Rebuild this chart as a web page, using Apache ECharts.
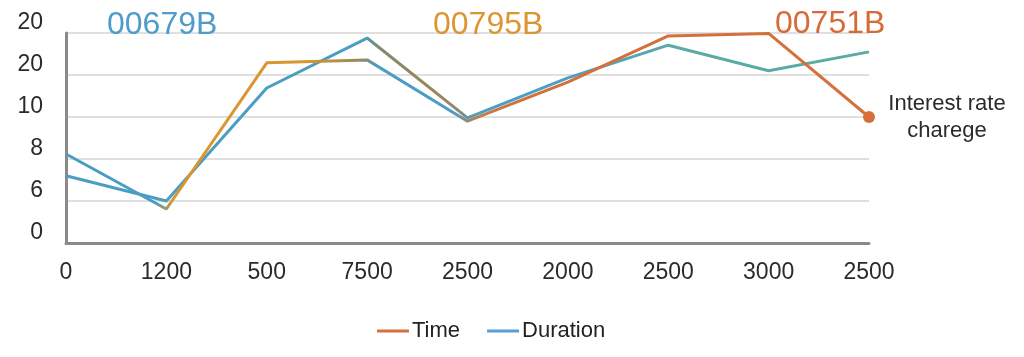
<!DOCTYPE html>
<html>
<head>
<meta charset="utf-8">
<script src="https://cdn.jsdelivr.net/npm/echarts@6/dist/echarts.min.js"></script>
<style>
html,body{margin:0;padding:0;background:#fff;}
#chart{width:1024px;height:357px;}
</style>
</head>
<body>
<div id="chart"></div>
<script>
// ---- data ----
const categories = ['0', '1200', '500', '7500', '2500', '2000', '2500', '3000', '2500'];
const yTickLabels = ['0', '6', '8', '10', '20', '20'];
const timeValues = [21.2, 8.1, 42.9, 43.6, 29.0, 38.3, 49.3, 49.9, 30.0];
const durationValues = [16.0, 10.0, 36.9, 48.8, 29.8, 39.3, 47.1, 41.0, 45.5];
const seriesNames = ['Time', 'Duration'];
const titleTexts = ['00679B', '00795B', '00751B'];
const endNote = ['Interest rate', 'charege'];

const chart = echarts.init(document.getElementById('chart'));
const FONT = '"Liberation Sans", Arial, Helvetica, sans-serif';

const timeGrad = new echarts.graphic.LinearGradient(0, 0, 1, 0, [
  {offset: 0, color: '#4a9dc3'},
  {offset: 0.115, color: '#4a9dc3'},
  {offset: 0.135, color: '#d9962f'},
  {offset: 0.30, color: '#d9962f'},
  {offset: 0.37, color: '#8f8c62'},
  {offset: 0.39, color: '#4a9dc3'},
  {offset: 0.48, color: '#4a9dc3'},
  {offset: 0.52, color: '#c87a45'},
  {offset: 0.57, color: '#d4703c'},
  {offset: 1, color: '#d4703c'}
]);
const durGrad = new echarts.graphic.LinearGradient(0, 0, 1, 0, [
  {offset: 0, color: '#4a9dc3'},
  {offset: 0.372, color: '#4a9dc3'},
  {offset: 0.39, color: '#7e8c6c'},
  {offset: 0.47, color: '#a0835a'},
  {offset: 0.52, color: '#4aa0c4'},
  {offset: 0.6, color: '#4aa0c4'},
  {offset: 0.76, color: '#5aaaa6'},
  {offset: 1, color: '#5aaaa6'}
]);

const option = {
  backgroundColor: '#ffffff',
  textStyle: {fontFamily: FONT},
  animation: false,
  grid: {left: 66, right: 155, top: 33, bottom: 114, containLabel: false},
  xAxis: {
    type: 'category',
    data: categories,
    boundaryGap: false,
    axisLine: {lineStyle: {color: '#8a8a8a', width: 3}},
    axisTick: {show: false},
    axisLabel: {color: '#2a2a2a', fontSize: 23, margin: 18, fontFamily: FONT},
    splitLine: {show: false}
  },
  yAxis: {
    type: 'value',
    min: 0, max: 50, interval: 10,
    axisLine: {show: true, lineStyle: {color: '#8a8a8a', width: 3}},
    axisTick: {show: false},
    axisLabel: {
      color: '#2a2a2a', fontSize: 23, margin: 23, fontFamily: FONT,
      verticalAlign: 'bottom', padding: [0, 0, -1, 0],
      formatter: v => yTickLabels[Math.round(v / 10)]
    },
    splitLine: {lineStyle: {color: '#d6d6d6', width: 1.5}}
  },
  legend: {
    bottom: 10,
    left: 372,
    itemGap: 27,
    itemWidth: 32,
    itemHeight: 3,
    textStyle: {color: '#222', fontSize: 22, fontFamily: FONT, padding: [0, 0, 0, -2]},
    data: [
      {name: seriesNames[0], icon: 'rect', itemStyle: {color: '#d4703c'}},
      {name: seriesNames[1], icon: 'rect', itemStyle: {color: '#5b9fd0'}}
    ]
  },
  graphic: [
    {type: 'text', z: 100, left: 107, top: 9, style: {text: titleTexts[0], fill: '#4f9bc9', font: '32px ' + FONT}},
    {type: 'text', z: 100, left: 433, top: 9, style: {text: titleTexts[1], fill: '#dc9530', font: '32px ' + FONT}},
    {type: 'text', z: 100, left: 775, top: 8, style: {text: titleTexts[2], fill: '#d66a38', font: '32px ' + FONT}}
  ],
  series: [
    {
      name: seriesNames[1],
      type: 'line',
      data: durationValues,
      symbol: 'none',
      color: '#5b9fd0',
      lineStyle: {width: 3, color: durGrad},
      z: 2
    },
    {
      name: seriesNames[0],
      type: 'line',
      data: timeValues.map((v, i) => i === timeValues.length - 1 ? {
        value: v,
        symbol: 'circle',
        symbolSize: 12,
        itemStyle: {color: '#d4703c'},
        label: {
          show: true,
          position: 'right',
          distance: 8,
          formatter: '{a|' + endNote[0] + '}\n{a|' + endNote[1] + '}',
          rich: {a: {width: 128, align: 'center', fontSize: 22, lineHeight: 27, color: '#2a2a2a', fontFamily: FONT}}
        }
      } : {value: v, symbol: 'none'}),
      color: '#d4703c',
      showAllSymbol: true,
      lineStyle: {width: 3, color: timeGrad},
      z: 3
    }
  ]
};
chart.setOption(option);
</script>
</body>
</html>
